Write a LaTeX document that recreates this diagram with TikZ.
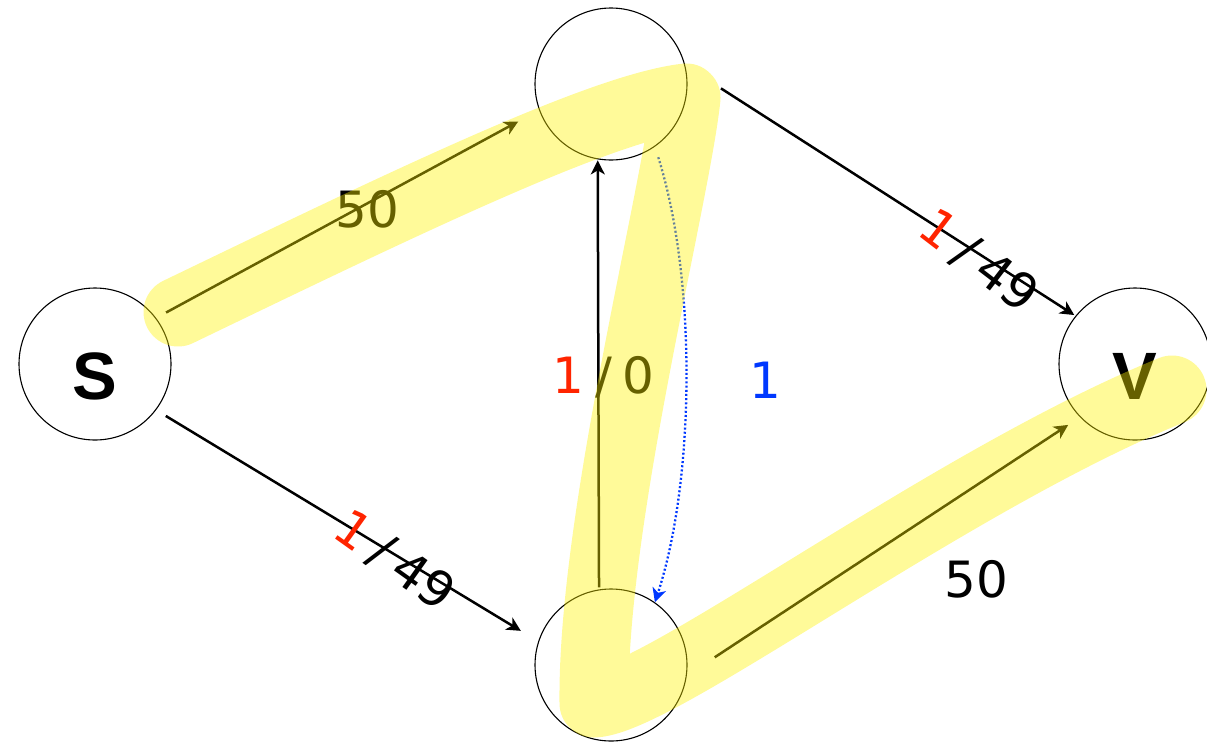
\documentclass[tikz,border=0pt]{standalone}
\usepackage{fontspec}
\setmainfont{DejaVu Sans}
\newfontfamily\numfont{DejaVu Sans}
\newfontfamily\nodefont{Liberation Sans}
\usetikzlibrary{arrows.meta}
\definecolor{myred}{RGB}{255,36,0}
\definecolor{myblue}{RGB}{0,56,255}
\begin{document}
\begin{tikzpicture}[x=1pt,y=-1pt,
  vertex/.style={circle, draw=black, line width=1.1pt, minimum size=152pt, inner sep=0pt,
    text height=70pt, text depth=0pt, font=\nodefont\bfseries\fontsize{67}{70}\selectfont},
  edge/.style={line width=2.5pt, -{Stealth[length=14pt,width=14pt,inset=4pt]}},
  flow/.style={line width=2.3pt, myblue, dash pattern=on 2pt off 2.2pt, -{Stealth[length=14pt,width=14pt,inset=4pt]}},
  lab/.style={font=\numfont\fontsize{50}{60}\selectfont, inner sep=0pt, anchor=base},
  hl/.style={yellow, opacity=0.4, line width=69pt, line cap=round, line join=round}]
\useasboundingbox (0,0) rectangle (1207,745);
% nodes
\node[vertex] (S) at (95,364) {S};
\node[vertex] (t) at (611,84) {};
\node[vertex] (b) at (611,665) {};
\node[vertex] (V) at (1135,364) {V};
% edges
\draw[edge, shorten <=11.3pt, shorten >=23.7pt] (S.37.9) -- (t.200.7);
\draw[edge, shorten <=11.3pt, shorten >=20.3pt] (S.-37.4) -- (b.162.8);
\draw[edge, shorten <=42.4pt, shorten >=1.5pt] (t.14.6) -- (V.141.8);
\draw[edge, shorten <=33.4pt, shorten >=14.1pt] (b.-8.6) -- (V.224.5);
\draw[edge, shorten <=2.1pt, shorten >=1pt] (b.99.8) -- (t.260.2);
\draw[flow, shorten <=11pt] (t.-55) .. controls (697,280) and (695,480) .. (b.55);
% labels
\node[lab] (w1) at (367.5,227) {50};
\node[lab] (w2) at (976.5,597.5) {50};
\node[lab] (w3) at (603.5,393.3) {\textcolor{myred}{1}\kern11pt/\kern11pt0};
\node[lab, text=myblue] (w4) at (765,398.3) {1};
\node[lab, rotate=-35.5] (w5) at (385,574) {\textcolor{myred}{1}\kern11pt/\kern11pt49};
\node[lab, rotate=-37.5] (w6) at (969,274) {\textcolor{myred}{1}\kern11pt/\kern11pt49};
% highlighted path
\draw[hl] (178,312) .. controls (400,205) and (600,108) .. (686,98)
  .. controls (675,200) and (592,520) .. (594,703)
  .. controls (660,700) and (950,480) .. (1172,390);
\end{tikzpicture}
\end{document}
